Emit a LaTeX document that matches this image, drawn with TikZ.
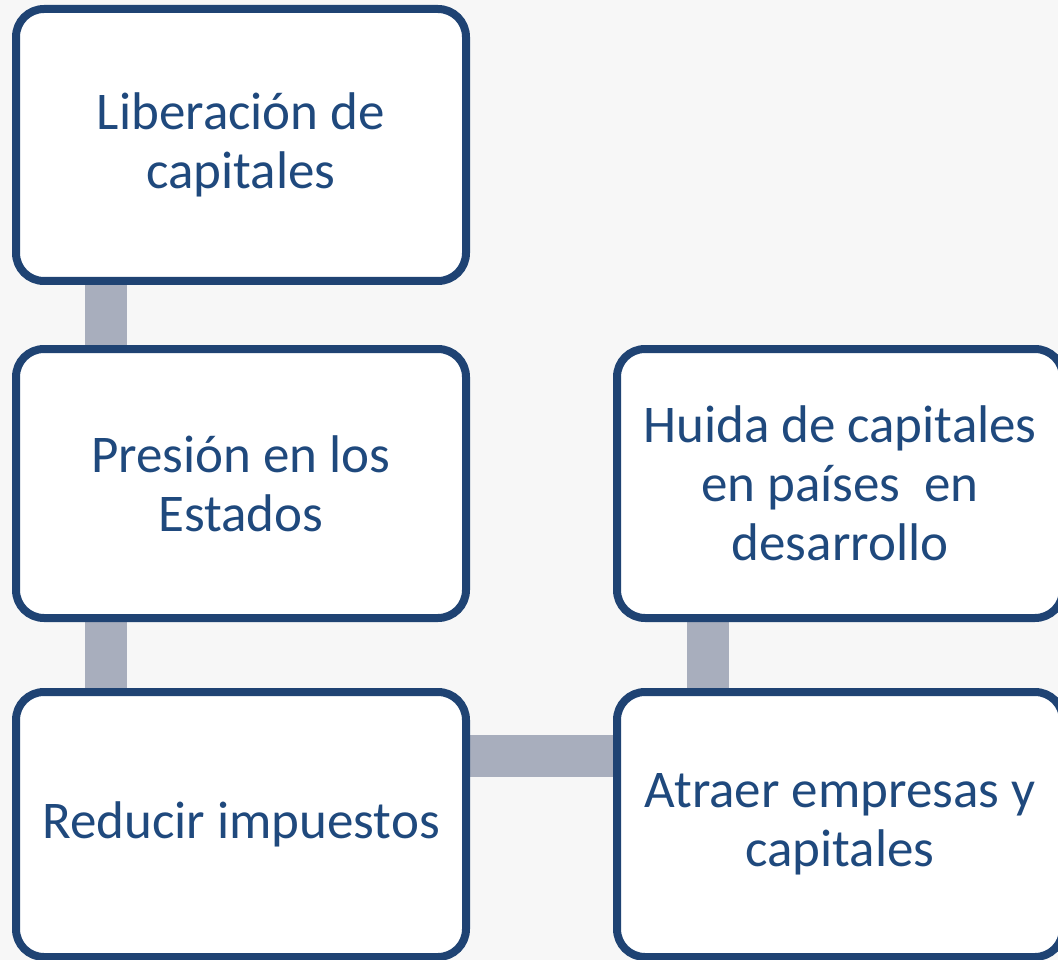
\documentclass[tikz,border=0pt]{standalone}
\usepackage{fontspec}
\setmainfont{Carlito}
\usepackage{xcolor}
\usetikzlibrary{backgrounds}

\definecolor{boxline}{HTML}{1F4373}
\definecolor{boxtext}{HTML}{1F497D}
\definecolor{barcol}{HTML}{A8AEBD}
\definecolor{pagebg}{HTML}{F7F7F7}

\begin{document}
\begin{tikzpicture}[
    x=1pt, y=-1pt,
    box/.style={draw=boxline, line width=8pt, fill=white, rounded corners=28pt,
                inner sep=0pt, align=center, text=boxtext,
                font=\fontsize{53}{59}\selectfont},
    link/.style={barcol, line width=42pt},
]

% Page
\useasboundingbox (0,0) rectangle (1058,960);

% Left column
\node[box, minimum width=450, minimum height=272] (lib) at (241, 145)
      {Liberación de\\capitales};
\node[box, minimum width=450, minimum height=269] (pres) at (241, 483.5)
      {Presión en los\\Estados};
\node[box, minimum width=450, minimum height=265] (red) at (241, 824.5)
      {Reducir impuestos};

% Right column (cut by the page edge)
\node[box, minimum width=446, minimum height=269] (huida) at (840, 483.5)
      {Huida de capitales\\en países~ en\\desarrollo};
\node[box, minimum width=446, minimum height=265] (atr) at (840, 824.5)
      {Atraer empresas y\\capitales};

% Connectors
\begin{scope}[on background layer]
\fill[pagebg] (0,0) rectangle (1058,960);
\draw[link] ([xshift=-135pt]lib.south) -- ([xshift=-135pt]pres.north);
\draw[link] ([xshift=-135pt]pres.south) -- ([xshift=-135pt]red.north);
\draw[link] ([yshift=69pt]red.east) -- ([yshift=69pt]atr.west);
\draw[link] ([xshift=-132pt]huida.south) -- ([xshift=-132pt]atr.north);
\end{scope}

\end{tikzpicture}
\end{document}
